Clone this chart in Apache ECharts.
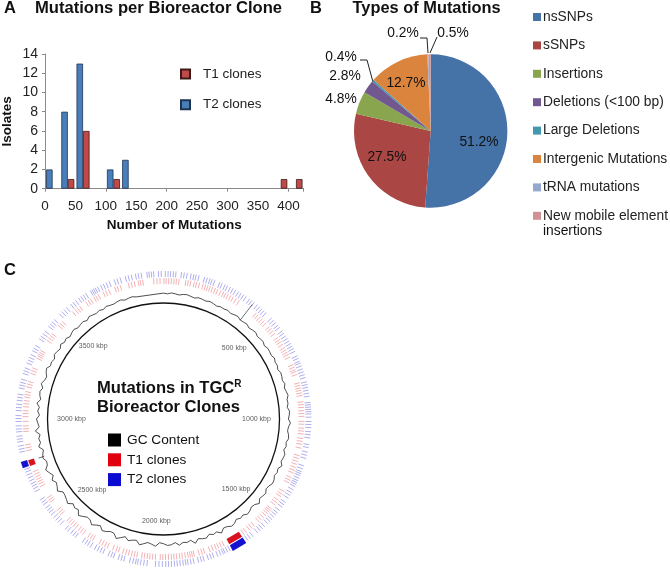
<!DOCTYPE html>
<html><head><meta charset="utf-8">
<style>html,body{margin:0;padding:0;background:#fff}#c{width:670px;height:576px}</style>
<script src="https://cdn.jsdelivr.net/npm/echarts@6/dist/echarts.min.js"></script>
</head><body><div id="c"></div>
<script>
const FONT = '"Liberation Sans", Arial, sans-serif';
// Panel A
const binLabels = ['0-25','25-50','50-75','75-100','100-125','125-150','150-175','175-200','200-225','225-250','250-275','275-300','300-325','325-350','350-375','375-400','400-425'];
const t1Isolates = [null,1,6,null,1,null,null,null,null,null,null,null,null,null,null,1,1];
const t2Isolates = [2,8,13,null,2,3,null,null,null,null,null,null,null,null,null,null,null];
// Panel B
const mutationTypes = ['nsSNPs','sSNPs','Insertions','Deletions (<100 bp)','Large Deletions','Intergenic Mutations','tRNA mutations','New mobile element insertions'];
const mutationShares = [51.2,27.5,4.8,2.8,0.4,12.7,0.2,0.5];
const mutationColors = ['#4572A7','#AA4643','#89A54E','#71588F','#4198AF','#DB843D','#93A9CF','#D19392'];
const pieLabelSpots = [[479,142],[387,157],[341,99],[345,76],[341,57],[406,83],[403,33],[453,33]];
// Panel C, positions in kbp
const genomeLength = 4000;
const kbpMarks = [500,1000,1500,2000,2500,3000,3500];
const kbpMarkRadii = [100,93,101,102,101,92,101];
const kbpMarkAngles = [500,1000,1490,2045,2500,3000,3510];
const t1Sites = [2,12,24,36,48,59,71,102,113,125,141,152,165,182,194,205,216,228,241,253,268,282,293,305,318,331,346,362,458,470,483,496,508,521,544,556,569,583,606,618,630,644,661,673,685,696,710,747,760,772,781,795,834,846,858,869,881,893,922,934,947,962,975,988,
 1011,1024,1042,1055,1068,1089,1102,1115,1133,1168,1181,1195,1209,1224,1238,1251,1274,1287,1300,1345,1360,1372,1392,1405,1418,1442,1451,1460,1470,1482,1496,1510,1523,1552,1567,1580,1599,1612,
 1716,1730,1743,1755,1770,1785,1810,1822,1836,1859,1868,1877,1887,1900,1914,1926,1940,1952,1964,1977,1991,2003,2015,2037,2050,2063,2075,2088,2100,2122,2134,2147,2161,2174,2188,2208,2220,2236,2262,2275,2289,2303,2337,2349,2362,2389,2402,2415,2432,2445,2458,2470,2483,2523,2535,2548,2597,2608,2620,2680,2694,2705,2717,2729,2742,2755,
 2855,2868,2882,2943,2955,2968,2989,3011,3025,3038,3056,3070,3084,3100,3112,3125,3147,3160,3173,3211,3224,3237,3285,3296,3305,3314,3324,3378,3392,3404,3416,3463,3475,3488,3552,3568,3580,3593,3627,3640,3652,3669,3680,3692,3717,3730,3744,3774,3786,3800,3838,3852,3866,3884,3894,3905,3955,3970,3984];
const t2Sites = [8,20,31,43,54,78,90,103,120,132,142,155,180,192,204,214,226,249,260,274,285,299,312,325,339,352,365,378,396,408,421,438,451,464,476,489,522,535,548,563,575,594,606,620,633,646,659,672,684,697,719,731,744,753,766,780,793,806,819,838,850,862,875,888,901,928,938,948,958,968,978,992,
 1011,1024,1037,1055,1068,1082,1111,1124,1144,1158,1172,1205,1219,1232,1241,1250,1262,1274,1283,1292,1302,1318,1333,1346,1360,1382,1394,1407,1425,1439,1450,1463,1476,1488,1501,1520,1533,1546,1560,1586,1600,1613,
 1702,1714,1726,1734,1746,1760,1778,1790,1803,1822,1834,1847,1867,1880,1893,1903,1914,1927,1940,1952,1965,1978,1990,2005,2020,2035,2072,2086,2100,2113,2122,2134,2148,2174,2186,2199,2221,2232,2245,2270,2283,2296,2310,2330,2344,2356,2370,2408,2420,2433,2450,2463,2493,2507,2520,2534,2550,2563,2575,2588,2605,2617,2630,2672,2686,2698,2710,2724,2738,2752,2766,2778,
 2855,2868,2882,2900,2912,2925,2944,2956,2970,2989,3002,3015,3037,3050,3064,3081,3094,3108,3135,3148,3160,3174,3200,3212,3225,3248,3261,3274,3288,3306,3318,3332,3365,3378,3392,3406,3432,3444,3456,3470,3503,3517,3530,3544,3567,3580,3594,3610,3622,3634,3647,3670,3678,3686,3694,3705,3720,3733,3746,3760,3783,3796,3810,3833,3846,3860,3878,3890,3903,3928,3937,3947,3957,3978,3990];
const t1Blocks = [[1625,1692],[2784,2812]];
const t2Blocks = [[1625,1692],[2786,2814]];
const gcSpikes = [[125,145,420],[125,131,2807]];
// GC deviation, one reading each 20 kbp round the ring
const gcDeviation = [0.4,-0.3,0.8,0.2,-0.5,0.6,1,0.1,-0.6,0.7,0.3,-0.2,0.9,0.2,-0.7,0.4,0,0.8,-0.4,0.5,1.2,-0.3,0.2,0.8,-0.6,0.3,1,-0.5,0.1,0.7,-0.9,0.5,0.2,-0.4,1.1,-0.2,0.3,-1,0.6,0.2,
 -0.5,0.9,-0.7,0.3,1.3,-0.4,0,-1.2,0.8,0.3,-0.6,1.5,-0.2,-0.9,0.5,1.1,-0.7,0.2,-1.3,0.9,0.4,-0.5,1.8,-0.8,0.2,-1.1,0.7,1.2,-0.6,-1.4,0.9,0.1,-0.8,2.2,-0.4,-1.2,0.6,1.4,-0.9,0.2,
 -1.6,0.8,1.5,-0.5,-1,2.4,-0.7,0.3,-1.5,1.1,0.4,-0.9,2.8,-1.2,0.2,-0.6,1.7,-1.4,0.5,1,-0.8,-1.7,2,0.3,-1,0.7,2.6,-1.3,-0.4,1.2,-1.8,0.6,3,-0.9,-1.1,0.8,1.9,-1.5,0.1,2.4,
 -0.7,-1.3,1,3.1,-1.1,0.2,-1.6,2.2,0.5,-0.8,-1.4,2.7,0.4,-1,1.6,-1.7,0.7,2.9,-0.6,-1.2,1.3,0.2,-1.5,2.3,-0.3,0.8,-1.1,3.2,-0.9,0.3,1.5,-1.4,0.6,-0.8,2.1,-1.2,0.4,1.1,
 -0.9,1.8,-0.4,-1.3,0.7,2,-0.6,0.2,-1.1,1.3,0.5,-0.7,1.6,-0.3,0.9,-1,0.4,1.2,-0.5,0.2,0.8,-0.9,1.1,0.3,-0.4,0.7,-0.6,0.9,0.1,-0.3,0.6,1,-0.5,0.2,0.7,-0.4];
const gcBaseline = 125.5;

const gcPoints = gcDeviation.map((d, i) => [gcBaseline + d, i * 20]);
gcPoints.push(gcPoints[0]);

function tickRender(r0, r1, color) {
  return (params, api) => {
    const a = api.value(0);
    const p0 = api.coord([r0, a]), p1 = api.coord([r1, a]);
    return {type:'line', shape:{x1:p0[0],y1:p0[1],x2:p1[0],y2:p1[1]},
      style:{stroke:color, lineWidth:1, opacity:0.42}, silent:true};
  };
}
function spikeRender() {
  return (params, api) => {
    const p0 = api.coord([api.value(0), api.value(2)]), p1 = api.coord([api.value(1), api.value(2)]);
    return {type:'line', shape:{x1:p0[0],y1:p0[1],x2:p1[0],y2:p1[1]}, style:{stroke:'#333', lineWidth:0.7}, silent:true};
  };
}
function blockRender(r0, r1, color) {
  return (params, api) => {
    const a = api.value(0), b = api.value(1);
    const pts = [[r0,a],[r1,a],[r1,b],[r0,b]].map(q => api.coord(q));
    return {type:'polygon', shape:{points:pts}, style:{fill:color}, silent:true};
  };
}
const pad = n => [0,0,0,n];
const lead = pts => ({type:'polyline', shape:{points:pts}, style:{stroke:'#222',lineWidth:1,fill:null}, silent:true});
const txt = (x,y,text,size,weight,extra) => ({type:'text', x, y, silent:true,
  style:Object.assign({text, fontFamily:FONT, fontSize:size, fontWeight:weight||'normal', fill:'#111', verticalAlign:'middle'}, extra||{})});

const option = {
  animation:false, backgroundColor:'#fff', textStyle:{fontFamily:FONT},
  grid:[{left:45, top:54, width:258.6, height:134.7, containLabel:false, outerBoundsMode:'none'}],
  xAxis:[
    {type:'category', gridIndex:0, data:binLabels, name:'Number of Mutations', nameLocation:'middle', nameGap:30,
     nameTextStyle:{fontFamily:FONT,fontWeight:'bold',fontSize:13.5,color:'#111'},
     axisLine:{lineStyle:{color:'#8a8a8a'}}, axisTick:{show:true,length:3,lineStyle:{color:'#8a8a8a'}}, axisLabel:{show:false}},
    {type:'value', gridIndex:0, min:0, max:425, interval:50, position:'bottom', splitLine:{show:false}, axisLine:{show:false}, axisTick:{show:false},
     axisLabel:{color:'#222',fontSize:13.5,fontFamily:FONT,margin:11,showMaxLabel:false}}
  ],
  yAxis:[{type:'value', gridIndex:0, min:0, max:14, interval:2, name:'Isolates', nameLocation:'middle', nameGap:31, nameRotate:90,
    nameTextStyle:{fontFamily:FONT,fontWeight:'bold',fontSize:13.5,color:'#111'},
    splitLine:{show:false}, axisLine:{show:true,lineStyle:{color:'#8a8a8a'}}, axisTick:{show:true,length:3,lineStyle:{color:'#8a8a8a'}},
    axisLabel:{color:'#222',fontSize:14,fontFamily:FONT,margin:7}}],
  polar:[{center:[163.5,419], radius:[0,116]},{center:[163.5,419], radius:[0,150]}],
  radiusAxis:[{polarIndex:0,min:0,max:116,show:false},{polarIndex:1,min:0,max:150,show:false}],
  angleAxis:[
    {polarIndex:0,type:'value',min:0,max:genomeLength,interval:500,startAngle:90,clockwise:true,
     axisLine:{show:true,lineStyle:{color:'#111',width:1.3}},axisTick:{show:false},splitLine:{show:false},axisLabel:{show:false}},
    {polarIndex:1,type:'value',min:0,max:genomeLength,startAngle:90,clockwise:true,show:false}
  ],
  legend:[
    {left:180,top:67,padding:0,orient:'vertical',itemWidth:9,itemHeight:9,itemGap:16.7,icon:'rect',selectedMode:false,
     data:['T1 clones','T2 clones'],textStyle:{fontSize:13.5,color:'#222',fontFamily:FONT,padding:pad(8)}},
    {left:533,top:10,padding:0,orient:'vertical',itemWidth:8,itemHeight:8,itemGap:14.4,icon:'rect',selectedMode:false,
     data:mutationTypes,formatter:n => n.startsWith('New mobile') ? 'New mobile element' : n,
     textStyle:{fontSize:13.8,color:'#222',fontFamily:FONT,padding:pad(-3)}},
    {left:108,top:433,padding:0,orient:'vertical',itemWidth:13,itemHeight:13,itemGap:5.8,icon:'rect',selectedMode:false,
     data:[{name:'GC Content',itemStyle:{color:'#000'}},{name:'T1 clones ',itemStyle:{color:'#e0000f'}},{name:'T2 clones ',itemStyle:{color:'#0a0ad0'}}],
     formatter:n => n.trim(), textStyle:{fontSize:13.7,color:'#111',fontFamily:FONT,padding:pad(1)}}
  ],
  series:[
    {name:'T2 clones',type:'bar',xAxisIndex:0,yAxisIndex:0,data:t2Isolates,barWidth:6.5,barGap:'0%',
     itemStyle:{color:'#4A7EBB',borderColor:'#1e3350',borderWidth:0.8}},
    {name:'T1 clones',type:'bar',xAxisIndex:0,yAxisIndex:0,data:t1Isolates,barWidth:6.5,barGap:'0%',
     itemStyle:{color:'#BE4B48',borderColor:'#3d1a19',borderWidth:0.8}},
    {type:'pie',center:[430.7,131],radius:[0,76.7],startAngle:90,clockwise:true,avoidLabelOverlap:false,
     data:mutationTypes.map((n,i)=>({name:n,value:mutationShares[i],itemStyle:{color:mutationColors[i]}})),
     label:{show:true,position:'inside',formatter:p=>p.value.toFixed(1)+'%',fontSize:13.8,color:'#111',fontFamily:FONT},
     labelLine:{show:false},
     labelLayout:p=>({x:pieLabelSpots[p.dataIndex][0],y:pieLabelSpots[p.dataIndex][1],align:'center',verticalAlign:'middle'})},
    {name:'GC Content',type:'line',coordinateSystem:'polar',polarIndex:1,data:gcPoints,showSymbol:false,smooth:false,
     lineStyle:{color:'#222',width:0.8}},
    {type:'custom',coordinateSystem:'polar',polarIndex:1,data:gcSpikes,encode:{radius:[0,1],angle:2},renderItem:spikeRender()},
    {name:'T1 clones ',type:'custom',coordinateSystem:'polar',polarIndex:1,data:t1Sites.map(v=>[v]),encode:{angle:0},
     renderItem:tickRender(135,141,'#e2444a')},
    {name:'T2 clones ',type:'custom',coordinateSystem:'polar',polarIndex:1,data:t2Sites.map(v=>[v]),encode:{angle:0},
     renderItem:tickRender(142,148,'#3d3dd8')},
    {type:'custom',coordinateSystem:'polar',polarIndex:1,data:t1Blocks,encode:{angle:[0,1]},renderItem:blockRender(135.5,141.5,'#d9121f')},
    {type:'custom',coordinateSystem:'polar',polarIndex:1,data:t2Blocks,encode:{angle:[0,1]},renderItem:blockRender(142.5,149,'#1212d0')},
    {type:'scatter',coordinateSystem:'polar',polarIndex:1,symbolSize:0,
     data:kbpMarks.map((m,i)=>({value:[kbpMarkRadii[i],kbpMarkAngles[i]],name:m+' kbp'})),
     label:{show:true,position:'inside',formatter:'{b}',fontSize:7,color:'#333',fontFamily:FONT}}
  ],
  graphic:{elements:[
    txt(4,8,'A',16.5,'bold'),
    txt(35,8,'Mutations per Bioreactor Clone',16.6,'bold'),
    txt(310,8,'B',16.5,'bold'),
    txt(352.5,8,'Types of Mutations',16.4,'bold'),
    txt(4,270,'C',16.5,'bold'),
    txt(543,231,'insertions',13.8),
    {type:'text',x:97,y:388,silent:true,style:{rich:{
       a:{fontFamily:FONT,fontSize:16.6,fontWeight:'bold',fill:'#111'},
       s:{fontFamily:FONT,fontSize:10,fontWeight:'bold',fill:'#111',verticalAlign:'top',padding:[0,0,6,0]}},
       text:'{a|Mutations in TGC}{s|R}',verticalAlign:'middle'}},
    txt(97,407,'Bioreactor Clones',16.6,'bold'),
    lead([[360,60],[367,60],[373,82]]),
    lead([[420,38],[427,38],[428,53]]),
    lead([[437,37],[430,53]])
  ]}
};
echarts.init(document.getElementById('c'),null,{renderer:'canvas'}).setOption(option);
</script></body></html>
